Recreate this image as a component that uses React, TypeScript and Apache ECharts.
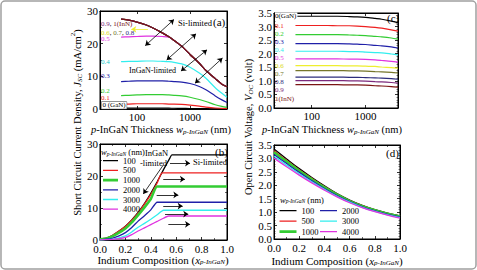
import React, { useEffect, useRef } from 'react';
import * as echarts from 'echarts';

const FONT = 'Liberation Serif, serif';

// ---------- (a) Jsc vs p-InGaN thickness ----------
const THICK_A = [50, 70, 100, 150, 200, 300, 400, 500, 700, 1000, 1500, 2000, 3000, 4000, 5000];
const JSC_A_00 = [0.25, 0.25, 0.25, 0.25, 0.25, 0.25, 0.24, 0.23, 0.2, 0.16, 0.12, 0.1, 0.06, 0.04, 0.03];
const JSC_A_01 = [1.5, 1.5, 1.6, 1.6, 1.6, 1.6, 1.5, 1.5, 1.4, 1.2, 0.9, 0.6, 0.3, 0.2, 0.1];
const JSC_A_02 = [4.1, 4.2, 4.3, 4.4, 4.4, 4.4, 4.3, 4.2, 4.0, 3.6, 2.9, 2.3, 1.3, 0.8, 0.5];
const JSC_A_03 = [8.4, 8.5, 8.6, 8.6, 8.6, 8.6, 8.5, 8.4, 8.2, 7.8, 6.9, 5.9, 4.0, 2.8, 2.0];
const JSC_A_04 = [14.5, 14.6, 14.6, 14.7, 14.7, 14.6, 14.5, 14.3, 13.8, 12.8, 11.0, 9.4, 6.5, 4.8, 3.6];
const JSC_A_05 = [22.0, 22.1, 22.2, 22.3, 22.3, 22.2, 22.0, 21.0, 19.2, 16.7, 14.0, 11.8, 9.3, 7.6, 6.8];
const JSC_A_SI = [27.5, 27.2, 26.6, 25.7, 24.8, 23.3, 22.1, 21.0, 19.2, 16.7, 14.0, 11.8, 9.3, 7.6, 6.8];

// ---------- (c) Voc vs p-InGaN thickness ----------
const THICK_C = [50, 70, 100, 150, 200, 300, 500, 700, 1000, 1500, 2000, 3000, 4000];
const VOC_C_00 = [3.38, 3.38, 3.38, 3.38, 3.38, 3.38, 3.37, 3.36, 3.34, 3.30, 3.27, 3.20, 3.14];
const VOC_C_01 = [3.04, 3.04, 3.04, 3.04, 3.04, 3.03, 3.03, 3.02, 3.00, 2.97, 2.94, 2.88, 2.83];
const VOC_C_02 = [2.70, 2.70, 2.70, 2.70, 2.70, 2.70, 2.69, 2.68, 2.67, 2.64, 2.62, 2.58, 2.54];
const VOC_C_03 = [2.37, 2.37, 2.37, 2.37, 2.37, 2.37, 2.36, 2.35, 2.34, 2.31, 2.29, 2.25, 2.21];
const VOC_C_04 = [2.09, 2.09, 2.09, 2.09, 2.09, 2.09, 2.08, 2.08, 2.06, 2.04, 2.03, 1.99, 1.96];
const VOC_C_05 = [1.81, 1.81, 1.81, 1.81, 1.81, 1.81, 1.80, 1.80, 1.79, 1.77, 1.75, 1.72, 1.69];
const VOC_C_06 = [1.56, 1.56, 1.56, 1.56, 1.56, 1.56, 1.55, 1.55, 1.54, 1.53, 1.51, 1.49, 1.47];
const VOC_C_07 = [1.38, 1.38, 1.38, 1.38, 1.38, 1.38, 1.37, 1.37, 1.36, 1.34, 1.33, 1.31, 1.29];
const VOC_C_08 = [1.14, 1.14, 1.14, 1.14, 1.14, 1.14, 1.13, 1.13, 1.12, 1.11, 1.10, 1.08, 1.06];
const VOC_C_09 = [1.01, 1.01, 1.01, 1.01, 1.01, 1.01, 1.00, 1.00, 0.99, 0.97, 0.96, 0.94, 0.92];
const VOC_C_10 = [0.86, 0.86, 0.86, 0.86, 0.86, 0.86, 0.85, 0.85, 0.84, 0.82, 0.81, 0.79, 0.77];

// ---------- (b) Jsc vs indium composition ----------
const JSC_B_100 = [[0, 0.3], [0.05, 0.6], [0.1, 1.5], [0.15, 2.8], [0.2, 4.3], [0.25, 6.3], [0.3, 8.6], [0.35, 11.4], [0.4, 14.6], [0.45, 18.2], [0.5, 22.0], [0.55, 25.6], [0.566, 26.6], [1, 26.6]];
const JSC_B_500 = [[0, 0.3], [0.05, 0.6], [0.1, 1.5], [0.15, 2.8], [0.2, 4.2], [0.25, 6.2], [0.3, 8.4], [0.35, 11.2], [0.4, 14.2], [0.45, 17.8], [0.49, 21.0], [1, 21.0]];
const JSC_B_1000 = [[0, 0.2], [0.05, 0.5], [0.1, 1.2], [0.15, 2.3], [0.2, 3.6], [0.25, 5.5], [0.3, 7.8], [0.35, 10.2], [0.4, 12.8], [0.45, 16.7], [1, 16.7]];
const JSC_B_2000 = [[0, 0.1], [0.05, 0.3], [0.1, 0.6], [0.15, 1.3], [0.2, 2.3], [0.25, 3.9], [0.3, 5.9], [0.35, 7.6], [0.4, 9.4], [0.45, 11.8], [1, 11.8]];
const JSC_B_3000 = [[0, 0.05], [0.1, 0.3], [0.15, 0.7], [0.2, 1.3], [0.25, 2.5], [0.3, 4.0], [0.35, 5.2], [0.4, 6.5], [0.45, 7.9], [0.5, 9.3], [1, 9.3]];
const JSC_B_4000 = [[0, 0.03], [0.1, 0.2], [0.15, 0.4], [0.2, 0.8], [0.25, 1.7], [0.3, 2.8], [0.35, 3.8], [0.4, 4.8], [0.45, 5.8], [0.5, 6.8], [0.54, 7.5], [1, 7.5]];

// ---------- (d) Voc vs indium composition ----------
const COMP_D = [0, 0.1, 0.2, 0.3, 0.4, 0.5, 0.6, 0.7, 0.8, 0.9, 1.0];
const VOC_D_100 = [3.35, 2.98, 2.62, 2.29, 1.98, 1.69, 1.45, 1.25, 1.09, 0.96, 0.86];
const VOC_D_500 = [3.29, 2.93, 2.58, 2.26, 1.95, 1.67, 1.43, 1.24, 1.08, 0.95, 0.85];
const VOC_D_1000 = [3.23, 2.88, 2.54, 2.22, 1.92, 1.65, 1.41, 1.22, 1.07, 0.94, 0.84];
const VOC_D_2000 = [3.15, 2.81, 2.48, 2.17, 1.88, 1.62, 1.39, 1.20, 1.05, 0.92, 0.82];
const VOC_D_3000 = [3.08, 2.75, 2.43, 2.13, 1.85, 1.59, 1.37, 1.18, 1.03, 0.90, 0.80];
const VOC_D_4000 = [3.01, 2.69, 2.38, 2.09, 1.82, 1.57, 1.35, 1.17, 1.02, 0.89, 0.78];

const LEGEND_NAMES = ['100', '500', '1000', '2000', '3000', '4000'];
const COMP_LABELS_C = ['0(GaN)', '0.1', '0.2', '0.3', '0.4', '0.5', '0.6', '0.7', '0.8', '0.9', '1(InN)'];

const COL = {
  k: '#000000', r: '#ee2020', g: '#33cc33', b: '#2020a8', c: '#33eeee', m: '#e033e0',
  y: '#eeee30', o: '#76762a', n: '#2c2c7c', p: '#7c2a7c', mr: '#7a1414',
};

const zip = (xs: number[], ys: number[]) => xs.map((x, i) => [x, ys[i]]);

function line(name: string, xi: number, yi: number, data: any[], color: string, width = 1.2, extra: any = {}) {
  return {
    type: 'line', name, xAxisIndex: xi, yAxisIndex: yi, data, symbol: 'none', showSymbol: false,
    smooth: 0.25, lineStyle: { color, width }, itemStyle: { color },
    silent: true, animation: false, ...extra,
  };
}

const axisCommon = () => ({
  axisLine: { show: true, onZero: false, lineStyle: { color: '#000', width: 1 } },
  axisTick: { show: true, inside: true, length: 3, lineStyle: { color: '#000', width: 0.8 } },
  splitLine: { show: false },
});
const labelStyle = { fontFamily: FONT, fontSize: 11, color: '#000', margin: 2 };
const logFmt = (v: number) => {
  const l = Math.log10(v);
  return Math.abs(l - Math.round(l)) < 1e-6 ? String(Math.round(v)) : '';
};

function xAxisDef(grid: number, kind: 'log' | 'comp', max: number, top: boolean) {
  const base: any = { gridIndex: grid, position: top ? 'top' : 'bottom', ...axisCommon() };
  if (kind === 'log') {
    Object.assign(base, { type: 'log', logBase: 10, min: 20, max });
    base.axisLabel = top ? { show: false } : { ...labelStyle, formatter: logFmt };
  } else {
    Object.assign(base, { type: 'value', min: 0, max: 1, interval: 0.2 });
    base.minorTick = { show: true, splitNumber: 2, length: 2, lineStyle: { color: '#000', width: 0.6 } };
    base.axisLabel = top ? { show: false } : { ...labelStyle, margin: 3, formatter: (v: number) => v.toFixed(1) };
  }
  return base;
}
function yAxisDef(grid: number, kind: 'j' | 'v', right: boolean) {
  const base: any = { gridIndex: grid, position: right ? 'right' : 'left', type: 'value', ...axisCommon() };
  if (kind === 'j') {
    Object.assign(base, { min: 0, max: 30, interval: 10 });
    base.minorTick = { show: true, splitNumber: 2, length: 2, lineStyle: { color: '#000', width: 0.6 } };
    base.axisLabel = right ? { show: false } : { ...labelStyle };
  } else {
    Object.assign(base, { min: 0, max: 3.5, interval: 0.5 });
    base.minorTick = { show: true, splitNumber: 5, length: 1.5, lineStyle: { color: '#000', width: 0.5 } };
    base.axisLabel = right ? { show: false } : { ...labelStyle, formatter: (v: number) => v.toFixed(1) };
  }
  return base;
}

const mkTitleRich = (fs: number) => ({
  n: { fontFamily: FONT, fontSize: fs, fill: '#000', lineHeight: 14, verticalAlign: 'bottom' },
  i: { fontFamily: FONT, fontSize: fs, fontStyle: 'italic', fill: '#000', lineHeight: 14, verticalAlign: 'bottom' },
  s: { fontFamily: FONT, fontSize: 7, fontStyle: 'italic', fill: '#000', lineHeight: 8, verticalAlign: 'bottom' },
  u: { fontFamily: FONT, fontSize: 7, fill: '#000', lineHeight: 8, verticalAlign: 'top' },
});
const TITLE_RICH = mkTitleRich(11);
const TITLE_RICH_S = mkTitleRich(10.5);
const LEG_RICH = {
  n: { fontFamily: FONT, fontSize: 8.5, fill: '#000', lineHeight: 11, verticalAlign: 'bottom' },
  i: { fontFamily: FONT, fontSize: 8.5, fontStyle: 'italic', fill: '#000', lineHeight: 11, verticalAlign: 'bottom' },
  s: { fontFamily: FONT, fontSize: 5.5, fontStyle: 'italic', fill: '#000', lineHeight: 6, verticalAlign: 'bottom' },
};

function txt(x: number, y: number, text: string, style: any = {}, extra: any = {}) {
  return {
    type: 'text', x, y, z: 100, silent: true,
    style: { text, fontFamily: FONT, fontSize: 8.5, fill: '#000', align: 'left', verticalAlign: 'middle', ...style },
    ...extra,
  };
}

function arrow(p1: number[], p2: number[], both: boolean) {
  return [
    { coord: p1, symbol: both ? 'arrow' : 'none' },
    { coord: p2, symbol: 'arrow' },
  ];
}

// annotation arrows (data coordinates)
const ARROWS_A = [
  [[143, 19.4], [499, 27.4]],
  [[363, 15.0], [1300, 23.0]],
  [[676, 11.6], [2096, 18.1]],
  [[1245, 7.9], [4110, 15.6]],
];
const ARROW_A_YELLOW = [[161, 24.4], [78, 24.4]];
const ARROW_B_INGAN = [[0.498, 23.4], [0.341, 14.4]];
const ARROWS_B_SI = [
  [[0.551, 24.0], [0.709, 24.0]],
  [[0.498, 19.0], [0.669, 19.0]],
  [[0.446, 14.1], [0.617, 14.1]],
  [[0.498, 10.6], [0.651, 10.6]],
  [[0.512, 8.1], [0.695, 8.1]],
  [[0.538, 4.9], [0.709, 4.9]],
];

function markLine(data: any[], color = '#000') {
  return {
    silent: true, animation: false, symbolSize: 5,
    label: { show: false },
    lineStyle: { color, width: 0.8, type: 'solid' },
    emphasis: { disabled: true },
    data,
  };
}

// legend icons: a horizontal bar centred in a 30x14 box
const ICON_THIN = 'path://M0,0H30M0,5.7H30V8.3H0ZM0,14H30';
const ICON_THICK = 'path://M0,0H30M0,4.3H30V9.7H0ZM0,14H30';
const legendData = (names: string[]) => names.map((n) => ({ name: n, icon: n === '1000' ? ICON_THICK : ICON_THIN }));

function buildOption(): any {
  const grids = [
    { left: 100, top: 11, width: 127, height: 98 },
    { left: 274, top: 13, width: 124, height: 95 },
    { left: 100, top: 144, width: 127, height: 96 },
    { left: 274, top: 145, width: 126, height: 94 },
  ].map((g) => ({ ...g, show: true, borderColor: '#000', borderWidth: 1, backgroundColor: 'transparent' }));

  const xAxis = [
    xAxisDef(0, 'log', 5000, false), xAxisDef(1, 'log', 4000, false),
    xAxisDef(2, 'comp', 1, false), xAxisDef(3, 'comp', 1, false),
    xAxisDef(0, 'log', 5000, true), xAxisDef(1, 'log', 4000, true),
    xAxisDef(2, 'comp', 1, true), xAxisDef(3, 'comp', 1, true),
  ];
  const yAxis = [
    yAxisDef(0, 'j', false), yAxisDef(1, 'v', false), yAxisDef(2, 'j', false), yAxisDef(3, 'v', false),
    yAxisDef(0, 'j', true), yAxisDef(1, 'v', true), yAxisDef(2, 'j', true), yAxisDef(3, 'v', true),
  ];

  const cColors = [COL.k, COL.r, COL.g, COL.b, COL.c, COL.m, COL.y, COL.o, COL.n, COL.p, COL.mr];
  const series: any[] = [
    // (a)
    line('a0', 0, 0, zip(THICK_A, JSC_A_00), COL.k),
    line('a1', 0, 0, zip(THICK_A, JSC_A_01), COL.r),
    line('a2', 0, 0, zip(THICK_A, JSC_A_02), COL.g),
    line('a3', 0, 0, zip(THICK_A, JSC_A_03), COL.b),
    line('a4', 0, 0, zip(THICK_A, JSC_A_04), COL.c),
    line('a5', 0, 0, zip(THICK_A, JSC_A_05), COL.m),
    line('a6', 0, 0, zip(THICK_A, JSC_A_SI), COL.y, 1.2, {
      markLine: markLine([arrow(ARROW_A_YELLOW[0], ARROW_A_YELLOW[1], false)], COL.y),
    }),
    line('a7', 0, 0, zip(THICK_A, JSC_A_SI), COL.o),
    line('a8', 0, 0, zip(THICK_A, JSC_A_SI), COL.n),
    line('a9', 0, 0, zip(THICK_A, JSC_A_SI), COL.p),
    line('a10', 0, 0, zip(THICK_A, JSC_A_SI), COL.mr, 1.2, {
      markLine: markLine(ARROWS_A.map((a) => arrow(a[0], a[1], true))),
    }),
    // (c)
    ...[VOC_C_00, VOC_C_01, VOC_C_02, VOC_C_03, VOC_C_04, VOC_C_05, VOC_C_06, VOC_C_07, VOC_C_08, VOC_C_09, VOC_C_10].map(
      (arr, i) => line('c' + i, 1, 1, zip(THICK_C, arr), cColors[i])
    ),
    // (b)
    line('100', 2, 2, JSC_B_100, COL.k, 1.3, {
      smooth: 0.15,
      markLine: markLine([arrow(ARROW_B_INGAN[0], ARROW_B_INGAN[1], false), ...ARROWS_B_SI.map((a) => arrow(a[0], a[1], false))]),
    }),
    line('500', 2, 2, JSC_B_500, COL.r, 1.3, { smooth: 0.15 }),
    line('1000', 2, 2, JSC_B_1000, COL.g, 2.6, { smooth: 0.15 }),
    line('2000', 2, 2, JSC_B_2000, COL.b, 1.3, { smooth: 0.15 }),
    line('3000', 2, 2, JSC_B_3000, COL.c, 1.3, { smooth: 0.15 }),
    line('4000', 2, 2, JSC_B_4000, COL.m, 1.3, { smooth: 0.15 }),
    // (d)
    line('100', 3, 3, zip(COMP_D, VOC_D_100), COL.k, 1.3, { smooth: 0.4 }),
    line('500', 3, 3, zip(COMP_D, VOC_D_500), COL.r, 1.3, { smooth: 0.4 }),
    line('1000', 3, 3, zip(COMP_D, VOC_D_1000), COL.g, 2.6, { smooth: 0.4 }),
    line('2000', 3, 3, zip(COMP_D, VOC_D_2000), COL.b, 1.3, { smooth: 0.4 }),
    line('3000', 3, 3, zip(COMP_D, VOC_D_3000), COL.c, 1.3, { smooth: 0.4 }),
    line('4000', 3, 3, zip(COMP_D, VOC_D_4000), COL.m, 1.3, { smooth: 0.4 }),
  ];

  const legendText = { fontFamily: FONT, fontSize: 8.5, color: '#000', lineHeight: 9 };
  const legendBase = {
    orient: 'vertical', padding: 0, itemHeight: 7, selectedMode: false, symbolKeepAspect: false,
    itemStyle: { borderWidth: 0 }, textStyle: legendText,
  };
  const legend = [
    { ...legendBase, left: 103, top: 156.2, itemWidth: 15, itemGap: 0.7, data: legendData(LEGEND_NAMES) },
    { ...legendBase, left: 279.5, top: 206.2, itemWidth: 17, itemGap: 1.5, data: legendData(LEGEND_NAMES.slice(0, 3)) },
    { ...legendBase, left: 320, top: 206.2, itemWidth: 17, itemGap: 1.5, data: legendData(LEGEND_NAMES.slice(3)) },
  ];

  const labYC = [16, 26, 34, 42, 50, 58, 66, 74, 82, 90, 99];

  const small = (fill: string) => ({ fontFamily: FONT, fontSize: 7, fill });
  const graphic: any[] = [
    // frame
    { type: 'rect', z: 100, silent: true, shape: { x: 1, y: 1, width: 475, height: 268, r: 4 }, style: { fill: 'none', stroke: '#a0a0a0', lineWidth: 1.5 } },
    // axis titles
    txt(76, 122.5, '{n|Short Circuit Current Density, }{i|J}{s|SC}{n| (mA/cm}{u|2}{n|)}', { align: 'center', rich: TITLE_RICH_S }, { rotation: Math.PI / 2 }),
    txt(247, 127, '{n|Open Circuit Voltage, }{i|V}{s|OC}{n| (volt)}', { align: 'center', rich: TITLE_RICH_S }, { rotation: Math.PI / 2 }),
    txt(161, 128, '{i|p}{n|-InGaN Thickness }{i|w}{s|p-InGaN}{n| (nm)}', { align: 'center', rich: TITLE_RICH_S }),
    txt(332, 128, '{i|p}{n|-InGaN Thickness }{i|w}{s|p-InGaN}{n| (nm)}', { align: 'center', rich: TITLE_RICH_S }),
    txt(163, 258, '{n|Indium Composition (}{i|x}{s|p-InGaN}{n|)}', { align: 'center', rich: TITLE_RICH }),
    txt(337, 259, '{n|Indium Composition (}{i|x}{s|p-InGaN}{n|)}', { align: 'center', rich: TITLE_RICH }),
    // panel letters
    txt(213, 22, '(a)', { fontSize: 11 }),
    txt(215, 152, '(b)', { fontSize: 11 }),
    txt(387, 18, '(c)', { fontSize: 11 }),
    txt(386, 153, '(d)', { fontSize: 11 }),
    // (a) annotations
    txt(178, 23, 'Si-limited', { fontSize: 8.5 }),
    txt(129, 70.7, 'InGaN-limited', { fontSize: 8 }),
    txt(101, 24.3, '{p|0.9}{k|, }{m|1(InN)}', { rich: { p: small(COL.p), k: small('#000'), m: small(COL.mr) } }),
    txt(101, 32.7, '{y|0.6}{k|, }{o|0.7}{k|, }{n|0.8}', { rich: { y: small('#d8d820'), k: small('#000'), o: small(COL.o), n: small(COL.n) } }),
    txt(101, 39.3, '0.5', small(COL.m)),
    txt(101, 61.7, '0.4', small('#22cccc')),
    txt(101, 76, '0.3', small(COL.b)),
    txt(101, 90.7, '0.2', small(COL.g)),
    txt(101, 98.3, '0.1', small(COL.r)),
    txt(101.5, 105.3, '0 (GaN)', { ...small('#000'), backgroundColor: '#fff', borderColor: '#444', borderWidth: 0.5, padding: [0, 1] }),
    // (b) annotations
    txt(145, 152.5, 'InGaN', { fontSize: 8.5 }),
    txt(140, 162.5, '-limited', { fontSize: 8.5 }),
    txt(193, 161.7, 'Si-limited', { fontSize: 8.5 }),
    txt(101, 151, '{i|w}{s|p-InGaN}{n| (nm)}', { rich: LEG_RICH }),
    // (d) legend title
    txt(280, 198.5, '{i|w}{s|p-InGaN}{n| (nm)}', { rich: LEG_RICH }),
    // (c) composition labels
    ...COMP_LABELS_C.map((s, i) =>
      txt(275, labYC[i], s, i === 0 ? { ...small(cColors[i]), backgroundColor: '#fff', padding: [0, 1, 0, 0] } : small(i === 6 ? '#d8d820' : cColors[i]))
    ),
  ];

  return {
    animation: false,
    backgroundColor: '#ffffff',
    grid: grids,
    xAxis,
    yAxis,
    legend,
    series,
    graphic,
  };
}

export default function App() {
  const ref = useRef<HTMLDivElement>(null);
  useEffect(() => {
    const chart = echarts.init(ref.current as HTMLDivElement, undefined, { renderer: 'svg' });
    chart.setOption(buildOption());
    return () => chart.dispose();
  }, []);
  return <div ref={ref} style={{ position: 'fixed', left: 0, top: 0, width: 477, height: 270, background: '#fff' }} />;
}
